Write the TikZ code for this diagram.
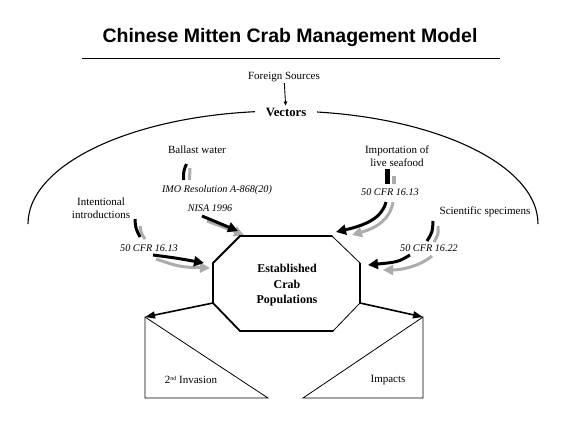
\documentclass[tikz,border=0pt]{standalone}
\usepackage{fontspec}
\setmainfont{Liberation Serif}
\newfontfamily\titlefont{Liberation Sans}
\usetikzlibrary{arrows.meta}
\begin{document}
\begin{tikzpicture}[x=1pt,y=-1pt,
  lbl/.style={font=\fontsize{11}{12.5}\selectfont, inner sep=1pt, align=center},
  law/.style={font=\fontsize{10.2}{12}\selectfont\itshape, inner sep=1pt},
  boldlbl/.style={font=\fontsize{12}{15.5}\selectfont\bfseries, inner sep=1pt, align=center},
  blk/.style={line width=3pt, black},
  gry/.style={line width=3pt, gray!65},
  bigtip/.style={-{Triangle[length=10pt,width=10pt]}},
  thick edge/.style={line width=1.8pt, line cap=round},
  thin edge/.style={line width=0.8pt, line cap=round},
  outarrow/.style={line width=1.6pt, -{Triangle[length=10pt,width=7pt]}}]
\useasboundingbox (0,0) rectangle (576,432);

% title
\node[font=\titlefont\bfseries\fontsize{19.5}{22}\selectfont] (title) at (290,37) {Chinese Mitten Crab Management Model};
\coordinate (rl) at (82,58);
\coordinate (rr) at (500,58);
\draw[line width=1pt] (rl) -- (rr);

% vectors arc
\draw[line width=1.1pt] (28,224) arc[start angle=180, end angle=360, x radius=255, y radius=113];
\node[lbl] (foreign) at (284,77) {Foreign Sources};
\node[font=\fontsize{12.7}{14}\selectfont\bfseries, fill=white, inner xsep=11pt, inner ysep=2pt] (vectors) at (286,112) {Vectors};
\draw[line width=0.9pt, -{Triangle[length=4pt,width=3.5pt]}] (foreign) -- (vectors);

% labels
\node[lbl] (ballast) at (197,150) {Ballast water};
\node[lbl] (import) at (397,156) {Importation of\\live seafood};
\node[lbl] (intent) at (101,208) {Intentional\\introductions};
\node[lbl] (sci) at (485,212) {Scientific specimens};
\node[law] (imo) at (217,190) {IMO Resolution A-868(20)};
\node[law] (nisa) at (210,208) {NISA 1996};
\node[law] (cfrl) at (149,248) {50 CFR 16.13};
\node[law] (cfrr) at (390,192) {50 CFR 16.13};
\node[law] (cfrs) at (429,248) {50 CFR 16.22};

% ballast water arrow
\draw[gry] (189.5,180) -- (190,168);
\draw[blk] (183.5,180) .. controls (183.5,171) .. (186.5,164);
\draw[gry, bigtip] (207,221) -- (244,235);
\draw[blk, bigtip] (202,216) -- (238,231);

% intentional arrow
\draw[gry] (140,226) .. controls (141,233) .. (145,239);
\draw[blk] (135,219) .. controls (135.5,228) .. (140,237);
\draw[gry, bigtip] (156,259) .. controls (180,267) .. (210,268);
\draw[blk, bigtip] (153,255) .. controls (176,258) .. (204,263);

% importation arrow
\fill[gray!65] (392,176) rectangle (395.5,184);
\fill[black] (385,169) rectangle (389.5,184);
\draw[gry, bigtip] (393,202) .. controls (390,220) and (376,228) .. (352,235);
\draw[blk, bigtip] (386,202) .. controls (382,218) and (366,225) .. (336,232);

% scientific arrow
\draw[gry] (438,226) .. controls (438.5,234) .. (434,242);
\draw[blk] (433,221) .. controls (432.5,232) .. (427,241);
\draw[gry, bigtip] (432,256) .. controls (420,266) and (402,270) .. (383,270);
\draw[blk, bigtip] (410,255) .. controls (398,262) .. (368,265);

% octagon
\coordinate (oA) at (240,236);
\coordinate (oB) at (332,236);
\coordinate (oC) at (360,263);
\coordinate (oD) at (360,303);
\coordinate (oE) at (333,331);
\coordinate (oF) at (240,331);
\coordinate (oG) at (213,303);
\coordinate (oH) at (213,263);
\fill[white] (oA) -- (oB) -- (oC) -- (oD) -- (oE) -- (oF) -- (oG) -- (oH) -- cycle;
\draw[thick edge] (oH) -- (oA) -- (oB);
\draw[thin edge] (oB) -- (oC);
\draw[line width=1.1pt] (oC) -- (oD);
\draw[thin edge] (oD) -- (oE);
\draw[thick edge] (oE) -- (oF) -- (oG) -- (oH);
\node[boldlbl] (crab) at (287,285.5) {Established\\Crab\\Populations};

% triangles
\coordinate (lt) at (145,317);
\coordinate (lb) at (145,398);
\coordinate (lr) at (268,398);
\coordinate (rt) at (423,317);
\coordinate (rb) at (423,398);
\coordinate (rl2) at (303,398);
\draw[line width=0.8pt] (lt) -- (lb) -- (lr) -- cycle;
\draw[line width=0.8pt] (rt) -- (rb) -- (rl2) -- cycle;
\node[lbl] (inv) at (191,380) {2{\fontsize{6}{6}\selectfont\raisebox{3pt}{nd}} Invasion};
\node[lbl] (imp) at (388,380) {Impacts};

\draw[outarrow] (oG) -- (lt);
\draw[outarrow] (oD) -- (rt);
\end{tikzpicture}
\end{document}
